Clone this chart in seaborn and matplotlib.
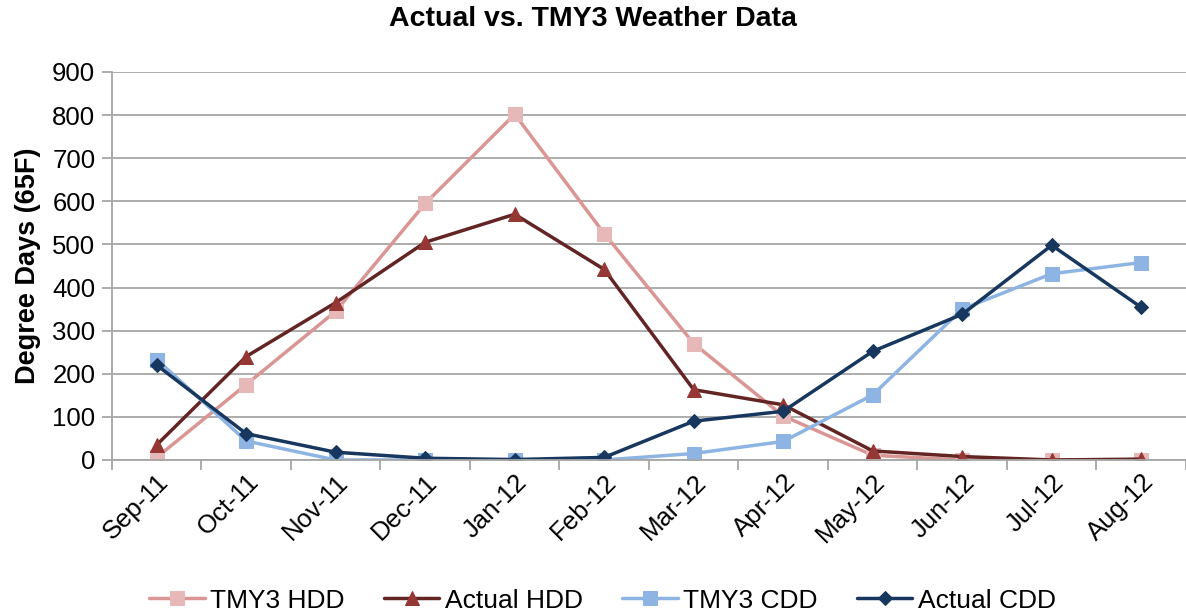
import matplotlib
matplotlib.use("Agg")
import matplotlib.pyplot as plt
import seaborn as sns
import pandas as pd
from matplotlib.ticker import FixedLocator

months = ["Sep-11", "Oct-11", "Nov-11", "Dec-11", "Jan-12", "Feb-12",
          "Mar-12", "Apr-12", "May-12", "Jun-12", "Jul-12", "Aug-12"]
tmy3_hdd = [6, 175, 345, 595, 802, 525, 270, 102, 11, 0, 0, 0]
actual_hdd = [35, 240, 365, 505, 570, 442, 163, 128, 21, 8, 0, 2]
tmy3_cdd = [233, 44, 0, 0, 0, 0, 15, 43, 151, 350, 432, 458]
actual_cdd = [220, 61, 18, 4, 1, 6, 90, 113, 252, 338, 498, 354]

series_names = ["TMY3 HDD", "Actual HDD", "TMY3 CDD", "Actual CDD"]
series_vals = [tmy3_hdd, actual_hdd, tmy3_cdd, actual_cdd]
line_colors = ["#DA9694", "#632523", "#8DB4E2", "#17375E"]
marker_colors = ["#E6B9B8", "#953735", "#8DB4E2", "#17375E"]
markers = ["s", "^", "s", "D"]
msizes = [9.5, 9.5, 9.5, 7.5]

sns.set_theme(style="white")
plt.rcParams['font.family'] = ['Liberation Sans', 'DejaVu Sans']
plt.rcParams['text.color'] = 'black'

fig = plt.figure(figsize=(11.86, 6.12), dpi=100)
ax = fig.add_axes([0.0944, 0.2484, 0.9056, 0.634])

for name, vals, lc, mc, mk, ms in zip(series_names, series_vals, line_colors,
                                      marker_colors, markers, msizes):
    df = pd.DataFrame({"month": months, "value": vals})
    sns.lineplot(data=df, x="month", y="value", ax=ax, sort=False,
                 color=lc, linewidth=2.5, marker=mk, markersize=ms,
                 markerfacecolor=mc, markeredgecolor=mc, label=name)

ax.set_xlim(-0.5, 11.5)
ax.set_ylim(0, 900)
ax.set_yticks(range(0, 901, 100))
ax.yaxis.grid(True, color="#A6A6A6", linewidth=1.3)
ax.xaxis.grid(False)
ax.set_axisbelow(True)

for s in ["top", "right"]:
    ax.spines[s].set_visible(False)
for s in ["left", "bottom"]:
    ax.spines[s].set_color("#A6A6A6")
    ax.spines[s].set_linewidth(1.3)

ax.tick_params(axis="y", which="major", length=7, width=1.3, color="#A6A6A6",
               labelsize=18.5, pad=5, left=True)
ax.tick_params(axis="x", which="major", length=0, labelsize=18.5, pad=7)
ax.xaxis.set_minor_locator(FixedLocator([i - 0.5 for i in range(13)]))
ax.tick_params(axis="x", which="minor", length=7, width=1.3, color="#A6A6A6",
               bottom=True)
ax.set_xticks(range(len(months)))
ax.set_xticklabels(months, rotation=45, ha="right", rotation_mode="anchor")
for lab in ax.get_yticklabels() + ax.get_xticklabels():
    lab.set_color("black")

ax.set_xlabel("")
ax.set_ylabel("Degree Days (65F)", fontsize=19.5, fontweight="bold",
              labelpad=8, color="black")

fig.suptitle("Actual vs. TMY3 Weather Data", fontsize=20.5, fontweight="bold",
             x=0.5, y=0.99, color="black")

handles, labels = ax.get_legend_handles_labels()
ax.get_legend().remove()
fig.legend(handles, labels, loc="lower center", bbox_to_anchor=(0.508, -0.04),
           ncol=4, frameon=False, fontsize=19, handlelength=2.1,
           columnspacing=1.5, handletextpad=0.2)

fig.savefig("out.png", dpi=100)
